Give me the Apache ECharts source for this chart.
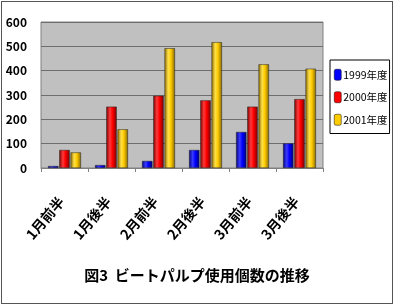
<!DOCTYPE html>
<html><head><meta charset="utf-8">
<script src="https://cdn.jsdelivr.net/npm/echarts@6/dist/echarts.min.js"></script>
<style>html,body{margin:0;padding:0;background:#fff}#c{width:394px;height:305px}</style>
</head><body><div id="c"></div>
<script>
const categories = ['1月前半','1月後半','2月前半','2月後半','3月前半','3月後半'];
const s1999 = [8, 12, 29, 74, 148, 101];
const s2000 = [74, 252, 297, 278, 252, 283];
const s2001 = [64, 159, 492, 517, 426, 408];
const yTicks = [0, 100, 200, 300, 400, 500, 600];
const seriesNames = ['1999年度','2000年度','2001年度'];

function grad(dark, mid, light){
  return new echarts.graphic.LinearGradient(0,0,1,0,[
    {offset:0,color:dark},{offset:0.35,color:light},{offset:0.6,color:mid},{offset:1,color:dark}]);
}
const colors = [
  grad('#00007a','#0000ff','#3a3aff'),
  grad('#7a0000','#ff0000','#ff3a3a'),
  grad('#8a6a00','#ffcc00','#ffe04a')
];
const legendColors = ['#0000ff','#ff0000','#ffcc00'];
const data = [s1999, s2000, s2001];

const chart = echarts.init(document.getElementById('c'), null, {renderer:'canvas'});
const font = '"Noto Sans CJK JP","Liberation Sans",sans-serif';
chart.setOption({
  animation:false,
  backgroundColor:'#fff',
  title:{text:'図3  ビートパルプ使用個数の推移', left:'center', top:263,
    textStyle:{fontFamily:font, fontSize:15, fontWeight:'bold', color:'#000'}},
  legend:{orient:'vertical', left:330, top:60, padding:[9,2,8,4], itemGap:11,
    itemWidth:7, itemHeight:11, backgroundColor:'#fff', borderColor:'#000', borderWidth:1,
    data: seriesNames.map((n,i)=>({name:n, itemStyle:{color:legendColors[i], borderColor:'#000', borderWidth:0.5}})),
    textStyle:{fontFamily:font, fontSize:10.5, color:'#000', padding:[0,0,0,-3]}},
  grid:{left:41, right:71, top:22, bottom:137, show:true, backgroundColor:'#c0c0c0', borderColor:'#808080', borderWidth:1},
  xAxis:{type:'category', data:categories,
    axisLine:{show:true, lineStyle:{color:'#808080'}},
    axisTick:{show:true, length:4, lineStyle:{color:'#808080'}},
    axisLabel:{rotate:50, margin:27, padding:[0,5,0,0], fontFamily:font, fontSize:14, fontWeight:'bold', color:'#000'}},
  yAxis:{type:'value', min:yTicks[0], max:yTicks[yTicks.length-1], interval:100,
    axisLine:{show:false}, axisTick:{show:false},
    splitLine:{lineStyle:{color:'#6e6e6e', width:1}},
    axisLabel:{margin:14, padding:[6,0,0,0], fontFamily:font, fontSize:12, fontWeight:'bold', color:'#000'}},
  series: data.map((d,i)=>({
    name:seriesNames[i], type:'bar', data:d, barGap:'8%', barCategoryGap:'30%',
    itemStyle:{color:colors[i], borderColor:'#222', borderWidth:0.5}
  }))
});
</script>
<div style="position:absolute;left:1px;top:1px;width:390px;height:301px;border:1px solid #555;pointer-events:none"></div>
</body></html>
